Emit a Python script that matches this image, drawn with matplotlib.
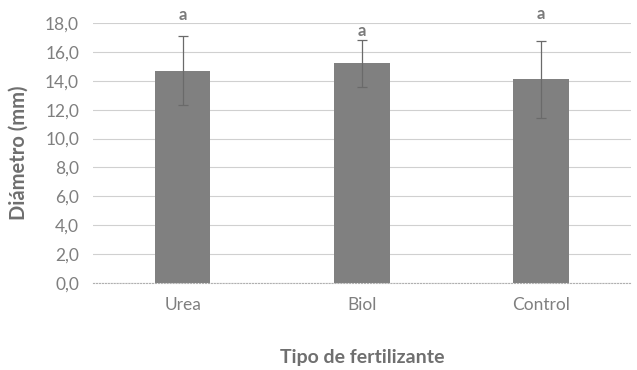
import matplotlib.pyplot as plt
import numpy as np

tratamientos = ['Urea', 'Biol', 'Control']
diametro = [14.7, 15.2, 14.1]
error = [2.4, 1.6, 2.65]
letras = ['a', 'a', 'a']
altura_letras = [18.55, 17.45, 18.6]

plt.rcParams['font.family'] = ['Lato', 'DejaVu Sans']
gris = '#808080'
texto = '#7f7f7f'

fig = plt.figure(figsize=(6.37, 3.70), dpi=100)
ax = fig.add_axes([0.146, 0.235, 0.844, 0.703])

x = np.arange(len(tratamientos))
ax.bar(x, diametro, width=0.31, color=gris, zorder=2)
ax.errorbar(x, diametro, yerr=error, fmt='none', ecolor='#6a6a6a',
            elinewidth=0.9, capsize=3.5, capthick=0.9, zorder=3)
for xi, h, t in zip(x, altura_letras, letras):
    ax.text(xi, h, t, ha='center', va='center', fontsize=12,
            fontweight='bold', color='#7a7a7a')

ax.set_xlim(-0.5, 2.5)
ax.set_ylim(0, 18)
ax.set_yticks(np.arange(0, 18.1, 2))
ax.set_yticklabels([f'{v:.1f}'.replace('.', ',') for v in np.arange(0, 18.1, 2)])
ax.set_xticks(x)
ax.set_xticklabels(tratamientos)
ax.tick_params(length=0, colors=texto, labelsize=12.5)
ax.tick_params(axis='y', pad=10)
ax.tick_params(axis='x', pad=10)
ax.grid(axis='y', color='#d0d0d0', linewidth=0.8, zorder=0)
for s in ['top', 'right', 'left']:
    ax.spines[s].set_visible(False)
ax.spines['bottom'].set_color('#b0b0b0')
ax.spines['bottom'].set_linestyle(':')

ax.set_ylabel('Diámetro (mm)', fontsize=14.5, fontweight='bold', color='#6f6f6f', labelpad=12)
ax.set_xlabel('Tipo de fertilizante', fontsize=14, fontweight='bold', color='#6f6f6f', labelpad=26)

fig.savefig('out.png', dpi=100)
